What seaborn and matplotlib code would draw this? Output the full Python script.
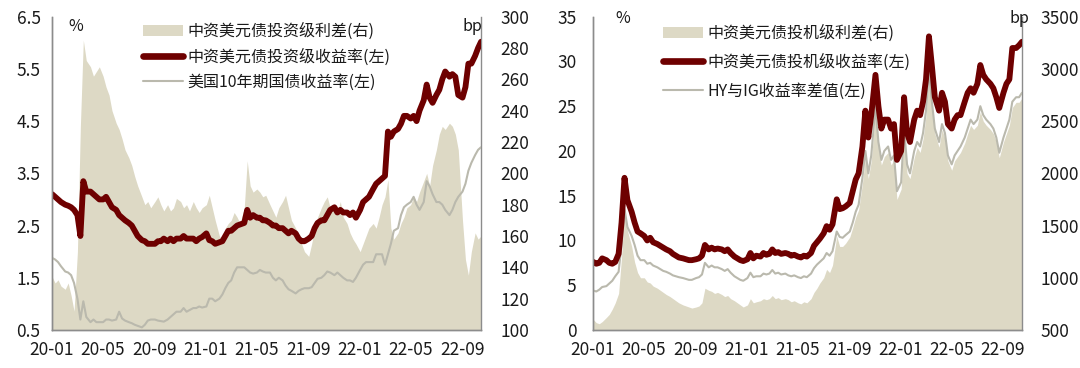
import matplotlib
matplotlib.use("Agg")
import matplotlib.pyplot as plt
import matplotlib.dates as mdates
from matplotlib.patches import Patch
from matplotlib.lines import Line2D
import pandas as pd
import seaborn as sns

# Sample dates: four points per month, Jan 2020 - mid Oct 2022
DAYS = [2, 9, 16, 23]
N_POINTS = 135

# Left panel: IG yield (%), US 10Y (%), IG spread (bp)
ig_yield = [
    3.10, 3.05, 3.00, 2.95,
    2.90, 2.88, 2.85, 2.80,
    2.70, 2.30, 3.35, 3.15,
    3.15, 3.10, 3.05, 3.00,
    3.00, 3.05, 2.95, 2.85,
    2.80, 2.70, 2.65, 2.60,
    2.55, 2.50, 2.40, 2.30,
    2.22, 2.20, 2.15, 2.15,
    2.15, 2.20, 2.20, 2.25,
    2.20, 2.25, 2.20, 2.25,
    2.25, 2.30, 2.25, 2.25,
    2.25, 2.20, 2.25, 2.28,
    2.35, 2.22, 2.20, 2.15,
    2.18, 2.20, 2.30, 2.40,
    2.40, 2.45, 2.50, 2.52,
    2.55, 2.80, 2.65, 2.70,
    2.65, 2.65, 2.60, 2.60,
    2.55, 2.50, 2.50, 2.45,
    2.45, 2.40, 2.35, 2.40,
    2.35, 2.25, 2.20, 2.20,
    2.25, 2.30, 2.45, 2.55,
    2.60, 2.60, 2.70, 2.80,
    2.85, 2.75, 2.80, 2.75,
    2.75, 2.70, 2.75, 2.65,
    2.80, 2.95, 3.00, 3.05,
    3.20, 3.30, 3.35, 3.40,
    3.45, 4.30, 4.20, 4.30,
    4.35, 4.45, 4.60, 4.60,
    4.55, 4.60, 4.50, 4.70,
    4.90, 5.20, 4.95, 4.85,
    5.00, 5.10, 5.30, 5.45,
    5.35, 5.40, 5.35, 5.00,
    4.95, 5.15, 5.60, 5.60,
    5.75, 5.90, 6.02,
]
us10y = [
    1.88, 1.85, 1.80, 1.72,
    1.62, 1.60, 1.55, 1.40,
    1.10, 0.70, 1.05, 0.75,
    0.65, 0.70, 0.65, 0.65,
    0.65, 0.70, 0.70, 0.68,
    0.70, 0.85, 0.72, 0.68,
    0.65, 0.63, 0.60, 0.58,
    0.55, 0.60, 0.68, 0.70,
    0.70, 0.68, 0.67, 0.66,
    0.70, 0.75, 0.80, 0.85,
    0.85, 0.92, 0.85, 0.88,
    0.92, 0.92, 0.95, 0.93,
    0.95, 1.10, 1.10, 1.05,
    1.10, 1.18, 1.30, 1.40,
    1.45, 1.60, 1.70, 1.70,
    1.70, 1.65, 1.60, 1.58,
    1.60, 1.65, 1.62, 1.60,
    1.60, 1.50, 1.45, 1.50,
    1.45, 1.35, 1.28, 1.25,
    1.20, 1.25, 1.28, 1.30,
    1.30, 1.32, 1.40, 1.48,
    1.50, 1.55, 1.62, 1.60,
    1.55, 1.60, 1.55, 1.50,
    1.45, 1.45, 1.42, 1.50,
    1.65, 1.75, 1.80, 1.80,
    1.80, 1.95, 1.95, 1.95,
    1.75, 1.95, 2.15, 2.40,
    2.45, 2.70, 2.85, 2.90,
    2.95, 3.05, 2.90, 2.80,
    2.95, 3.35, 3.25, 3.10,
    2.95, 2.95, 2.90, 2.80,
    2.70, 2.80, 2.95, 3.05,
    3.15, 3.30, 3.55, 3.70,
    3.85, 3.95, 4.00,
]
ig_spread = [
    134, 130, 132, 128,
    126, 130, 122, 112,
    150, 230, 285, 272,
    268, 262, 265, 268,
    262, 255, 250, 240,
    232, 228, 222, 215,
    210, 205, 198, 192,
    185, 180, 182, 178,
    182, 185, 180, 176,
    180, 176, 178, 184,
    182, 178, 180, 176,
    182, 178, 175, 178,
    180, 186, 178, 170,
    160, 157, 165, 168,
    170, 175, 172, 168,
    178, 208, 192, 188,
    190, 188, 185, 186,
    180, 176, 172, 178,
    182, 186, 178, 170,
    165, 160, 155, 150,
    147, 155, 165, 172,
    178, 182, 185, 178,
    180, 175, 182, 172,
    168, 162, 158, 155,
    150, 155, 160, 165,
    168, 165, 172, 180,
    185, 196, 165, 158,
    162, 168, 172, 178,
    180, 185, 182, 188,
    195, 200, 192, 205,
    215, 225, 230, 228,
    232, 230, 225, 215,
    170, 145, 135, 150,
    162, 158, 160,
]

# Right panel: HY yield (%), HY-IG yield gap (%), HY spread (bp)
hy_yield = [
    7.6, 7.4, 7.5, 8.0,
    7.8, 7.5, 7.4, 7.6,
    8.5, 12.0, 17.0, 14.5,
    13.2, 12.0, 11.0, 10.8,
    10.5, 10.0, 10.3, 9.8,
    9.6, 9.4, 9.2, 9.0,
    8.8, 8.5, 8.3, 8.1,
    8.0, 7.9, 7.8, 7.8,
    7.9, 8.0, 8.3, 9.5,
    9.0, 9.2, 9.0, 9.1,
    9.0, 8.8, 9.0, 8.6,
    8.2, 8.0, 7.8, 7.7,
    7.9, 8.6, 8.0, 8.3,
    8.2, 8.6, 8.4, 8.5,
    9.0, 8.6, 8.7, 8.5,
    8.6, 8.5, 8.3, 8.4,
    8.2, 8.1, 8.3, 8.2,
    8.6, 9.4, 9.8, 10.2,
    10.8, 11.6, 11.2, 11.8,
    14.6, 13.5, 13.6, 13.8,
    14.2, 15.5, 16.8, 17.5,
    20.5, 24.5, 21.5, 24.0,
    28.5, 25.0, 22.5, 23.5,
    23.5, 22.5, 23.0, 19.0,
    20.0, 26.0, 22.0, 21.0,
    23.5, 24.5, 24.0, 25.5,
    28.0, 32.8, 29.5, 26.0,
    24.5, 26.5, 25.5, 23.0,
    22.5, 23.5, 24.0, 24.0,
    25.5, 26.5, 27.0, 26.5,
    27.5, 29.6, 28.5, 28.0,
    27.5, 27.0, 26.0, 24.8,
    26.5, 27.5, 28.0, 31.5,
    31.5, 31.8, 32.2,
]
hy_ig_gap = [
    4.4, 4.3, 4.5, 4.8,
    4.9, 5.2, 5.5, 6.0,
    6.5, 9.5, 13.5, 11.5,
    10.5, 9.5, 8.3, 7.8,
    7.8, 7.4, 7.5, 7.2,
    7.0, 6.8, 6.6, 6.5,
    6.3, 6.1, 6.0, 5.9,
    5.8, 5.7, 5.6, 5.6,
    5.8, 5.9, 6.2, 7.5,
    7.0, 7.2, 7.0, 7.0,
    6.8, 6.6, 6.8, 6.4,
    6.0, 5.8, 5.6, 5.5,
    5.8, 6.4, 5.9, 6.0,
    6.0, 6.3, 6.2, 6.3,
    6.7, 6.3, 6.4, 6.2,
    6.3, 6.1, 6.0, 6.1,
    5.9, 5.8, 6.0, 5.9,
    6.3, 6.9, 7.3, 7.6,
    8.0, 8.6, 8.3, 8.8,
    11.0, 10.4, 10.3, 10.6,
    11.0, 12.0, 13.2, 14.0,
    17.0, 20.0, 17.5, 19.5,
    25.0, 21.0, 19.0, 20.0,
    20.5, 19.0, 19.5, 15.5,
    16.5, 22.5, 18.5, 17.5,
    20.0, 21.0, 20.5, 22.0,
    24.5, 29.0, 25.5, 22.5,
    21.0, 23.0, 22.0, 19.5,
    18.5, 19.5, 20.0, 20.5,
    21.5, 22.5, 23.5, 23.0,
    23.5, 25.0, 24.0, 23.5,
    23.0, 22.5, 21.5, 19.8,
    21.5, 22.5, 23.5, 25.5,
    26.0, 26.0, 26.5,
]
hy_spread = [
    600, 570, 560, 580,
    620, 650, 700, 760,
    850, 1200, 1650, 1450,
    1300, 1150, 1050, 1000,
    1000, 960, 950, 920,
    900, 880, 860, 840,
    820, 800, 780, 760,
    740, 730, 720, 710,
    720, 730, 760, 900,
    880, 870, 850, 860,
    840, 820, 830, 800,
    780, 760, 740, 720,
    740, 800, 760, 770,
    780, 800, 790, 800,
    830, 800, 810, 790,
    800, 790, 770, 780,
    760, 750, 770, 760,
    800, 860, 900, 950,
    1000, 1080, 1050, 1120,
    1400, 1300, 1300, 1330,
    1390, 1480, 1580, 1650,
    1900, 2150, 1950, 2120,
    2580, 2250, 2080, 2160,
    2200, 2080, 2130, 1750,
    1850, 2380, 2000, 1950,
    2150, 2250, 2200, 2330,
    2550, 2930, 2650, 2380,
    2250, 2420, 2330, 2120,
    2030, 2120, 2160, 2200,
    2290, 2380, 2460, 2420,
    2460, 2590, 2500, 2460,
    2420, 2380, 2300, 2150,
    2300, 2380, 2460, 2630,
    2680, 2680, 2720,
]

left_labels = ["中资美元债投资级利差(右)", "中资美元债投资级收益率(左)", "美国10年期国债收益率(左)"]
right_labels = ["中资美元债投机级利差(右)", "中资美元债投机级收益率(左)", "HY与IG收益率差值(左)"]

RED = "#6E0000"
SHADE = "#DDD9C5"
GREY = "#BAB9AD"
SPINE = "#8C8C8C"
TEXT = "#1A1A1A"


def draw_panel(ax, df, spread_col, yield_col, grey_col, labels,
               yticks, yfmt, yticks2, pads, legend_xy, legend_gap):
    ax2 = ax.twinx()
    ax2.fill_between(df["date"], yticks2[0], df[spread_col], color=SHADE, lw=0)

    sns.lineplot(data=df, x="date", y=grey_col, ax=ax, color=GREY, lw=1.5)
    sns.lineplot(data=df, x="date", y=yield_col, ax=ax, color=RED, lw=4.2)

    # lines above the shaded area
    ax.set_zorder(ax2.get_zorder() + 1)
    ax.patch.set_visible(False)

    ax.set_xlim(pd.Timestamp("2020-01-01"), pd.Timestamp("2022-10-16"))
    ax.set_ylim(yticks[0], yticks[-1])
    ax.set_yticks(yticks)
    ax.set_yticklabels([yfmt.format(v) for v in yticks])
    ax2.set_ylim(yticks2[0], yticks2[-1])
    ax2.set_yticks(yticks2)
    ax.set_xlabel("")
    ax.set_ylabel("")
    ax2.set_ylabel("")

    ax.xaxis.set_major_locator(mdates.MonthLocator(bymonth=[1, 5, 9]))
    ax.xaxis.set_major_formatter(mdates.DateFormatter("%y-%m"))
    ax.tick_params(axis="x", direction="in", length=4, color=SPINE,
                   labelsize=12.5, pad=8, labelcolor=TEXT)
    ax.tick_params(axis="y", length=0, labelsize=12.5, pad=pads[0], labelcolor=TEXT)
    ax2.tick_params(axis="y", length=0, labelsize=12.5, pad=pads[1], labelcolor=TEXT)

    for a in (ax, ax2):
        a.spines["top"].set_visible(False)
        for s in ("left", "bottom", "right"):
            a.spines[s].set_color(SPINE)
            a.spines[s].set_linewidth(1.0)
    ax.spines["right"].set_visible(False)

    handles = [
        Patch(facecolor=SHADE, edgecolor="none"),
        Line2D([], [], color=RED, lw=4.8, solid_capstyle="round"),
        Line2D([], [], color=GREY, lw=1.5),
    ]
    ax.legend(handles, labels, loc="upper left", bbox_to_anchor=legend_xy,
              bbox_transform=ax.figure.transFigure, frameon=False,
              fontsize=11.5, borderpad=0, handlelength=2.5,
              handletextpad=0.3, labelspacing=legend_gap, labelcolor=TEXT)
    return ax2


sns.set_theme(style="white")
plt.rcParams["font.family"] = ["Noto Sans CJK SC", "DejaVu Sans"]
plt.rcParams["axes.unicode_minus"] = False

months = pd.period_range("2020-01", "2022-10", freq="M")
dates = [pd.Timestamp(m.year, m.month, d) for m in months for d in DAYS][:N_POINTS]

left_df = pd.DataFrame({"date": dates, "ig_yield": ig_yield,
                        "us10y": us10y, "ig_spread": ig_spread})
right_df = pd.DataFrame({"date": dates, "hy_yield": hy_yield,
                         "hy_ig_gap": hy_ig_gap, "hy_spread": hy_spread})

fig = plt.figure(figsize=(10.8, 3.68), dpi=100)
ax_l = fig.add_axes([0.0479, 0.1033, 0.3975, 0.8514])
ax_r = fig.add_axes([0.5490, 0.1033, 0.3973, 0.8514])

draw_panel(ax_l, left_df, "ig_spread", "ig_yield", "us10y", left_labels,
           [0.5, 1.5, 2.5, 3.5, 4.5, 5.5, 6.5], "{:.1f}",
           list(range(100, 301, 20)), (8, 14), (0.125, 0.959), 0.5)
draw_panel(ax_r, right_df, "hy_spread", "hy_yield", "hy_ig_gap", right_labels,
           list(range(0, 36, 5)), "{:d}",
           list(range(500, 3501, 500)), (12, 13), (0.6065, 0.954), 0.72)

fig.text(0.063, 0.915, "%", fontsize=11.5, color=TEXT)
fig.text(0.428, 0.915, "bp", fontsize=11.5, color=TEXT)
fig.text(0.570, 0.937, "%", fontsize=11.5, color=TEXT)
fig.text(0.935, 0.937, "bp", fontsize=11.5, color=TEXT)

fig.savefig("out.png", dpi=100)
plt.close(fig)
